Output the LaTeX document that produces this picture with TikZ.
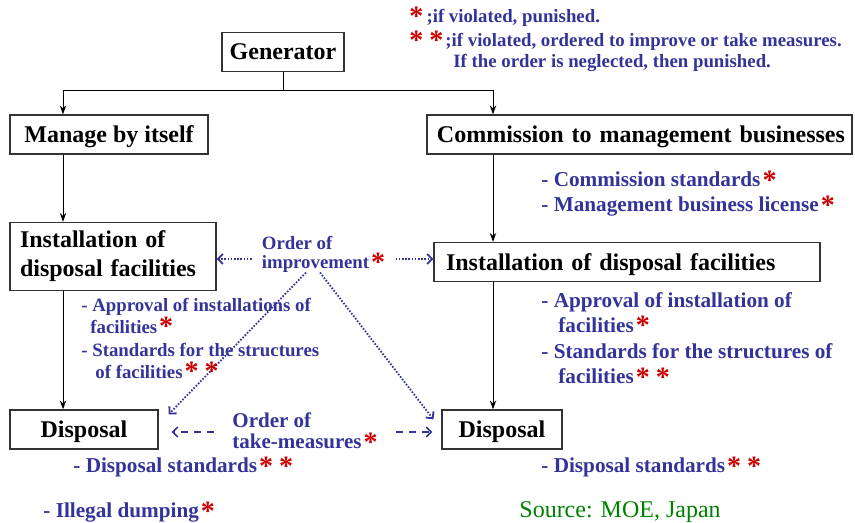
\documentclass[tikz,border=0pt]{standalone}
\usepackage{fontspec}
\setmainfont{Liberation Serif}
\usetikzlibrary{arrows.meta,positioning}
\definecolor{notes}{HTML}{333399}
\definecolor{starred}{HTML}{CC0000}
\definecolor{source}{HTML}{008000}
\newcommand{\rstar}{\kern1pt\textcolor{starred}{\smash{\raisebox{-1.5pt}{\fontsize{14}{14}\selectfont\bfseries *}}}}
\newcommand{\rstars}{\rstar\kern2pt\rstar}

\begin{document}
\begin{tikzpicture}[x=0.5pt,y=-0.5pt,
	box/.style={draw=black!80,line width=0.6pt,fill=white,inner sep=0pt,
		minimum height=19.5pt,font=\bfseries\fontsize{12}{14}\selectfont},
	line box/.style={box,text depth=0pt},
	note/.style={anchor=base west,inner sep=0pt,text=notes,
		font=\bfseries\fontsize{10.6}{12}\selectfont},
	small note/.style={note,font=\bfseries\fontsize{9.4}{11}\selectfont},
	order/.style={align=left,inner ysep=0pt,text=notes},
	flow/.style={-{Stealth[length=4.5pt,width=3.2pt]},line width=0.5pt},
	improve/.style={-{Straight Barb[length=2.5pt,width=5pt]},notes,line width=0.9pt,
		dash pattern=on 0.8pt off 0.8pt},
	measure/.style={-{Straight Barb[length=2.5pt,width=5pt]},notes,line width=0.8pt,
		dash pattern=on 3.5pt off 3pt}]
	\useasboundingbox (0,0) rectangle (855,523);
	% boxes
	\node [line box,minimum width=61pt] (gen) at (283,52) {Generator};
	\node [line box,minimum width=99pt] (self) at (109,134.5) {Manage by itself};
	\node [line box,text width=205.5pt,inner xsep=3.5pt,align=right] (comm) at (639.5,134.5)
		{Commission to management businesses};
	\node [box,minimum height=34pt,text width=93pt,inner xsep=5pt,align=left,
		font=\bfseries\fontsize{12}{14.5}\selectfont] (instL) at (113,256.5) {Installation of\\disposal facilities};
	\node [line box,text width=181pt,inner xsep=6pt,align=left] (instR) at (627,262)
		{Installation of disposal facilities};
	\node [line box,minimum width=74pt] (dispL) at (84,429.5) {Disposal};
	\node [line box,minimum width=60pt] (dispR) at (502,429.5) {Disposal};
	% flow
	\coordinate (split L) at (63,91);
	\coordinate (split R) at (493,91);
	\draw [flow] (gen.south) |- (split L) -- (split L |- self.north);
	\draw [flow] (gen.south) |- (split R) -- (split R |- comm.north);
	\draw [flow] (self.south -| split L) -- (instL.north -| split L);
	\draw [flow] (instL.south -| split L) -- (dispL.north -| split L);
	\draw [flow] (comm.south -| split R) -- (instR.north -| split R);
	\draw [flow] (instR.south -| split R) -- (dispR.north -| split R);
	% orders
	\node [order,inner xsep=5pt,font=\bfseries\fontsize{9.4}{9.5}\selectfont] (improvement) at (323.5,254)
		{Order of\\improvement\rstar};
	\node [order,inner xsep=9pt,font=\bfseries\fontsize{10.5}{10.5}\selectfont] (takemeasures) at (305,431)
		{Order of\\take-measures\rstar};
	\coordinate (imp L) at ([yshift=-2.5pt]improvement.west);
	\coordinate (imp R) at ([yshift=-2.5pt]improvement.east);
	\draw [improve] (imp L) -- (imp L -| instL.east);
	\draw [improve] (imp R) -- (imp R -| instR.west);
	\draw [improve] ([xshift=-8.75pt]improvement.south) -- ([xshift=5pt,yshift=-2.5pt]dispL.north east);
	\draw [improve] ([xshift=-1.75pt]improvement.south) -- ([xshift=-4pt,yshift=-5pt]dispR.north west);
	\coordinate (take L) at ([yshift=-0.5pt]takemeasures.west);
	\coordinate (take R) at ([yshift=-0.5pt]takemeasures.east);
	\draw [measure,shorten >=6.5pt] (take L) -- (take L -| dispL.east);
	\draw [measure,shorten >=4.5pt] (take R) -- (take R -| dispR.west);
	% legend
	\node [small note] (leg1) at (407,23) {\rstar\,;if violated, punished.};
	\node [small note] (leg2) at (407,47) {\rstars\kern1pt;if violated, ordered to improve or take measures.};
	\node [small note] (leg3) at (453,68) {If the order is neglected, then punished.};
	% notes
	\node [note] (cs) at (541,187) {- Commission standards\rstar};
	\node [note] (ml) at (541,212) {- Management business license\rstar};
	\node [small note] (apL1) at (81,312) {- Approval of installations of};
	\node [small note] (apL2) at (90,333) {facilities\rstar};
	\node [small note] (stL1) at (81,356) {- Standards for the structures};
	\node [small note] (stL2) at (95,378) {of facilities\rstars};
	\node [note] (apR1) at (541,307) {- Approval of installation of};
	\node [note] (apR2) at (558,332) {facilities\rstar};
	\node [note] (stR1) at (541,358) {- Standards for the structures of};
	\node [note] (stR2) at (558,383) {facilities\rstars};
	\node [note] (dsL) at (73,472) {- Disposal standards\rstars};
	\node [note] (dsR) at (541,472) {- Disposal standards\rstars};
	\node [note] (dump) at (43,517) {- Illegal dumping\rstar};
	\node [anchor=base west,inner sep=0pt,text=source,font=\fontsize{12}{14}\selectfont] (src) at (519,517) {Source: MOE, Japan};
\end{tikzpicture}
\end{document}
